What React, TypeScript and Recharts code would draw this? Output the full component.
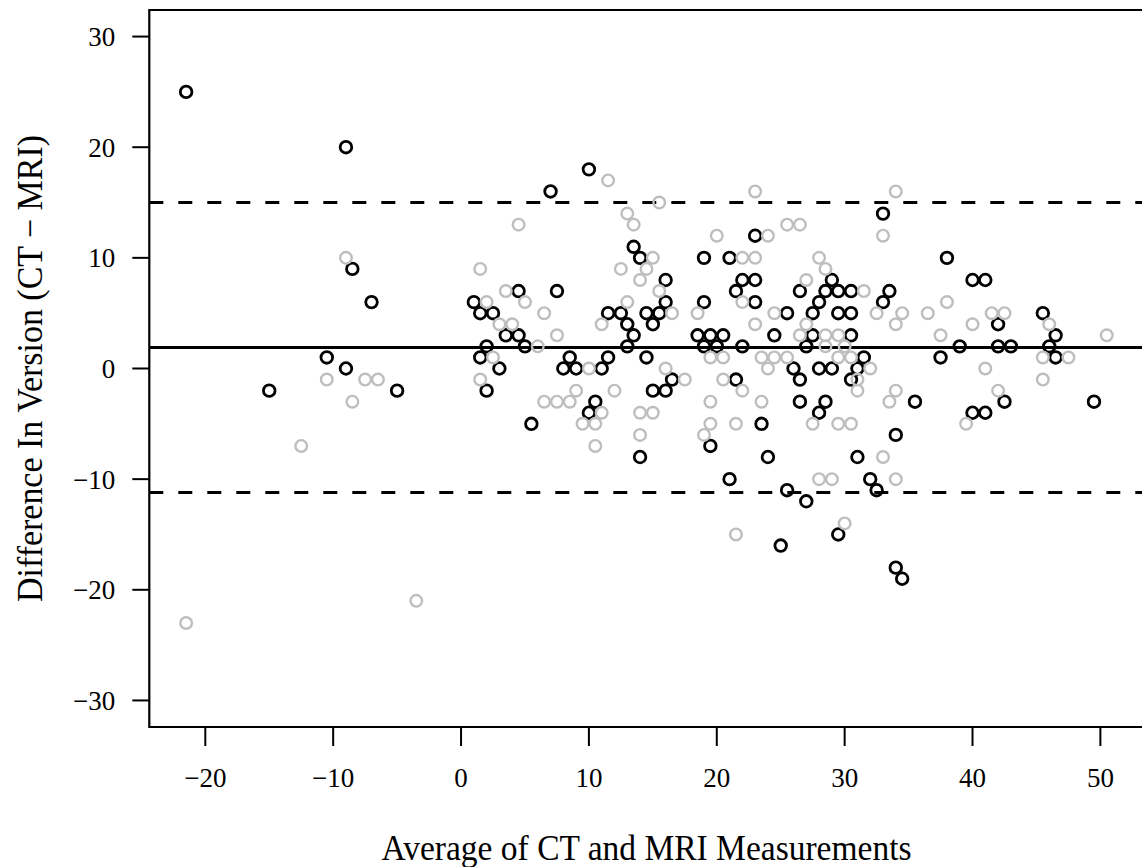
import React from "react";
import {
  ScatterChart,
  Scatter,
  XAxis,
  YAxis,
  ReferenceLine,
  ReferenceArea,
  Label,
} from "recharts";

// black points (average, difference)
const blackAvg = [
  -21.5, -9, -8.5, -7, -10.5, -9, -15, -5,
  10, 7, 4.5, 7.5, 1, 1.5, 2.5, 11.5, 3.5, 4.5, 2, 5, 1.5, 3, 8.5, 8, 9, 11, 11.5, 2, 10.5,
  10, 5.5,
  23, 13.5, 14, 19, 21, 16, 22, 23, 21.5, 16, 19, 23, 12.5, 14.5, 15.5, 13, 15, 13.5, 18.5, 19.5, 20.5, 24.5, 13, 14.5, 19, 20, 22, 16.5, 21.5, 15, 16,
  23.5, 19.5, 14, 24, 21, 25,
  33, 38, 29, 26.5, 28.5, 29.5, 30.5, 33.5, 33, 28, 25.5, 27.5, 29.5, 30.5, 27.5, 30.5, 27, 31.5, 37.5, 26, 28, 29, 31, 26.5, 30.5, 35.5,
  26.5, 28.5, 28, 34, 31, 32, 32.5, 25.5, 27, 29.5, 34, 34.5,
  40, 41, 45.5, 42, 46.5, 39, 42, 43, 46, 46.5, 42.5, 49.5, 40, 41,
];
const blackDiff = [
  25, 20, 9, 6, 1, 0, -2, -2,
  18, 16, 7, 7, 6, 5, 5, 5, 3, 3, 2, 2, 1, 0, 1, 0, 0, 0, 1, -2, -3,
  -4, -5,
  12, 11, 10, 10, 10, 8, 8, 8, 7, 6, 6, 6, 5, 5, 5, 4, 4, 3, 3, 3, 3, 3, 2, 1, 2, 2, 2, -1, -1, -2, -2,
  -5, -7, -8, -8, -10, -16,
  14, 10, 8, 7, 7, 7, 7, 7, 6, 6, 5, 5, 5, 5, 3, 3, 2, 1, 1, 0, 0, 0, 0, -1, -1, -3,
  -3, -3, -4, -6, -8, -10, -11, -11, -12, -15, -18, -19,
  8, 8, 5, 4, 3, 2, 2, 2, 2, 1, -3, -3, -4, -4,
];

// grey points (average, difference)
const greyAvg = [
  -9, -10.5, -7.5, -6.5, -8.5, -12.5, -3.5, -21.5,
  11.5, 4.5, 1.5, 3.5, 2, 5, 6.5, 3, 4, 11, 7.5, 6, 2.5, 10, 1.5, 9, 6.5, 7.5, 8.5, 12,
  11, 9.5, 10.5, 10.5,
  15.5, 23, 13, 13.5, 20, 24, 15, 22, 23, 12.5, 14.5, 14, 15.5, 13, 22, 16.5, 18.5, 24.5, 23, 19.5, 20.5, 23.5, 24.5, 24, 16, 17.5, 20.5, 19.5, 23.5, 22,
  14, 15, 14, 19.5, 21.5, 19, 21.5,
  34, 25.5, 26.5, 33, 28, 28.5, 27, 31.5, 38, 32.5, 34.5, 36.5, 34, 37.5, 26.5, 28.5, 29.5, 25.5, 29.5, 30.5, 32, 31, 34, 31, 27, 28.5, 30,
  33.5, 27.5, 29.5, 30.5, 33, 28, 29, 34, 30,
  41.5, 42.5, 40, 46, 50.5, 45.5, 47.5, 41, 45.5, 42, 39.5,
];
const greyDiff = [
  10, -1, -1, -1, -3, -7, -21, -23,
  17, 13, 9, 7, 6, 6, 5, 4, 4, 4, 3, 2, 1, 0, -1, -2, -3, -3, -3, -2,
  -4, -5, -5, -7,
  15, 16, 14, 13, 12, 12, 10, 10, 10, 9, 9, 8, 7, 6, 6, 5, 5, 5, 4, 1, 1, 1, 1, 0, 0, -1, -1, -3, -3, -2,
  -4, -4, -6, -5, -5, -6, -15,
  16, 13, 13, 12, 10, 9, 8, 7, 6, 5, 5, 5, 4, 3, 3, 3, 3, 1, 1, 1, 0, -1, -2, -2, 4, 2, 2,
  -3, -5, -5, -5, -8, -10, -10, -10, -14,
  5, 5, 4, 4, 3, 1, 1, 0, -1, -2, -5,
];

const meanDiff = 1.9;
const upperLimit = 15.0;
const lowerLimit = -11.2;

const xTicks = [-20, -10, 0, 10, 20, 30, 40, 50];
const yTicks = [-30, -20, -10, 0, 10, 20, 30];

const xDomain: [number, number] = [-24.38, 53.38];
const yDomain: [number, number] = [-32.4, 32.4];

const blackData = blackAvg.map((x, i) => ({ x, y: blackDiff[i] }));
const greyData = greyAvg.map((x, i) => ({ x, y: greyDiff[i] }));

const FONT = "'Liberation Serif', 'Times New Roman', serif";

const fmt = (v: number) => (v < 0 ? "\u2212" + Math.abs(v) : String(v));

const ring = (color: string, width: number) => (props: any) => (
  <circle
    cx={props.cx}
    cy={props.cy}
    r={5.8}
    fill="none"
    stroke={color}
    strokeWidth={width}
  />
);

export default function App() {
  return (
    <div
      style={{
        position: "fixed",
        left: 0,
        top: 0,
        width: 1142,
        height: 867,
        overflow: "hidden",
        background: "#fff",
      }}
    >
      <ScatterChart
        width={1162}
        height={867}
        margin={{ top: 10, right: 18.4, bottom: 80, left: 0 }}
      >
        <XAxis
          type="number"
          dataKey="x"
          domain={xDomain}
          ticks={xTicks}
          allowDataOverflow
          axisLine={false}
          tickLine={{ stroke: "#000", strokeWidth: 2 }}
          tickSize={19}
          tickMargin={22}
          height={60}
          tickFormatter={fmt}
          tick={{ fill: "#000", fontSize: 27, fontFamily: FONT }}
        >
          <Label
            content={() => (
              <text
                x={646.5}
                y={860}
                textAnchor="middle"
                fontFamily={FONT}
                fontSize={35}
                fill="#000"
                textLength={530}
                lengthAdjust="spacingAndGlyphs"
              >
                Average of CT and MRI Measurements
              </text>
            )}
          />
        </XAxis>
        <YAxis
          type="number"
          dataKey="y"
          domain={yDomain}
          ticks={yTicks}
          allowDataOverflow
          axisLine={false}
          tickLine={{ stroke: "#000", strokeWidth: 2 }}
          tickSize={17}
          tickMargin={17}
          width={149.3}
          tickFormatter={fmt}
          tick={{ fill: "#000", fontSize: 27, fontFamily: FONT }}
        >
          <Label
            content={() => (
              <text
                x={42}
                y={368.5}
                textAnchor="middle"
                fontFamily={FONT}
                fontSize={35}
                fill="#000"
                textLength={467}
                lengthAdjust="spacingAndGlyphs"
                transform="rotate(-90 42 368.5)"
              >
                Difference In Version (CT {"\u2212"} MRI)
              </text>
            )}
          />
        </YAxis>
        <ReferenceArea
          x1={xDomain[0]}
          x2={xDomain[1]}
          y1={yDomain[0]}
          y2={yDomain[1]}
          fill="none"
          stroke="#000"
          strokeWidth={2.2}
          ifOverflow="visible"
        />
        <Scatter
          data={blackData}
          isAnimationActive={false}
          shape={ring("#000", 2.8)}
        />
        <Scatter
          data={greyData}
          isAnimationActive={false}
          shape={ring("#bebebe", 2.4)}
        />
        <ReferenceLine y={meanDiff} stroke="#000" strokeWidth={3} />
        <ReferenceLine
          y={upperLimit}
          stroke="#000"
          strokeWidth={3}
          strokeDasharray="14 15"
        />
        <ReferenceLine
          y={lowerLimit}
          stroke="#000"
          strokeWidth={3}
          strokeDasharray="14 15"
        />
      </ScatterChart>
    </div>
  );
}
